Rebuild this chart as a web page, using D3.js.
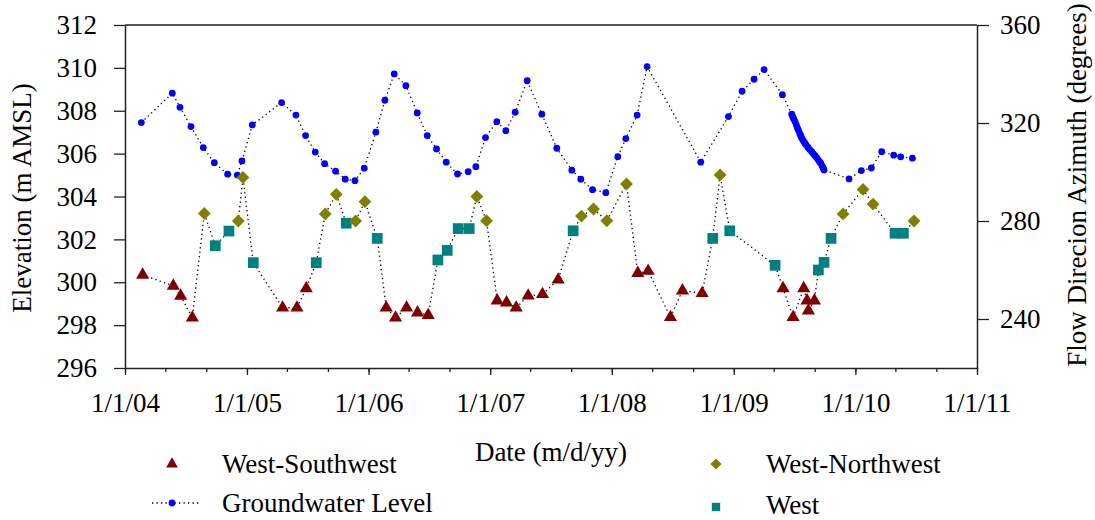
<!DOCTYPE html>
<html>
<head>
<meta charset="utf-8">
<script src="https://cdn.jsdelivr.net/npm/d3@7"></script>
<style>
  html, body { margin: 0; padding: 0; background: #fff; }
  svg { display: block; }
  svg text { font-family: "Liberation Serif", "Times New Roman", serif; fill: #000; }
</style>
</head>
<body>
<svg id="chart" width="1095" height="520"></svg>
<script>
// Groundwater level (m AMSL)
const gwDates = [
  "2004-02-19","2004-05-22","2004-06-14","2004-07-17","2004-08-23","2004-09-25","2004-11-04","2004-12-03","2004-12-17",
  "2005-01-17","2005-04-15","2005-05-28","2005-06-26","2005-07-25","2005-08-22","2005-09-24","2005-10-23","2005-11-21","2005-12-19",
  "2006-01-23","2006-02-19","2006-03-19","2006-04-23","2006-05-27","2006-06-26","2006-07-24","2006-08-22","2006-09-25","2006-10-27","2006-11-19","2006-12-18",
  "2007-01-21","2007-02-17","2007-03-17","2007-04-22","2007-06-05","2007-07-20","2007-09-03","2007-09-30","2007-11-04","2007-12-14",
  "2008-01-19","2008-02-12","2008-03-17","2008-04-16","2008-09-24","2008-12-16",
  "2009-01-26","2009-03-03","2009-04-02","2009-05-27",
  "2009-06-24","2009-06-27","2009-06-30","2009-07-04","2009-07-08","2009-07-11","2009-07-14","2009-07-18","2009-07-21","2009-07-24",
  "2009-07-29","2009-08-02","2009-08-06","2009-08-12","2009-08-17","2009-08-23","2009-08-28","2009-09-02","2009-09-07","2009-09-12",
  "2009-09-16","2009-09-19","2009-09-23","2009-09-26","2009-09-29",
  "2009-12-13","2010-01-19","2010-02-18","2010-03-21","2010-04-26","2010-05-17","2010-06-21"
];
const gwLevels = [
  307.45,308.82,308.16,307.26,306.28,305.58,305.04,305.00,305.66,
  307.34,308.38,307.80,306.84,306.07,305.53,305.18,304.81,304.74,305.32,
  307.00,308.49,309.72,309.17,307.90,306.84,306.22,305.60,305.05,305.16,305.39,306.75,
  307.49,307.07,307.93,309.40,307.84,306.25,305.23,304.81,304.32,304.18,
  305.86,306.70,307.80,310.06,305.60,307.73,
  308.91,309.47,309.92,308.75,
  307.84,307.72,307.62,307.49,307.33,307.20,307.10,306.94,306.84,306.72,
  306.60,306.50,306.41,306.29,306.19,306.09,305.99,305.90,305.81,305.70,
  305.61,305.55,305.43,305.33,305.24,
  304.82,305.21,305.33,306.09,305.93,305.85,305.79
];

// Flow direction azimuth (degrees), grouped by direction class
const wswDates = [
  "2004-02-23","2004-05-25","2004-06-16","2004-07-21",
  "2005-04-18","2005-05-31","2005-06-28",
  "2006-02-23","2006-03-23","2006-04-25","2006-05-28","2006-06-29",
  "2007-01-22","2007-02-19","2007-03-20","2007-04-25","2007-06-07","2007-07-24",
  "2008-03-19","2008-04-19","2008-06-25","2008-07-31","2008-09-28",
  "2009-05-29","2009-06-28","2009-07-30","2009-08-09","2009-08-13","2009-08-31"
];
const wswAzimuth = [
  258.0,253.5,249.4,240.5,
  244.6,244.6,252.5,
  244.6,240.5,244.6,242.6,241.6,
  247.5,246.7,244.6,249.5,250.1,256.0,
  258.7,259.6,240.7,251.6,250.5,
  252.5,240.7,252.5,247.5,243.4,247.5
];
const wnwDates = [
  "2004-08-26","2004-12-06","2004-12-20",
  "2005-08-24","2005-09-26","2005-11-23","2005-12-21",
  "2006-11-22","2006-12-21",
  "2007-10-02","2007-11-07","2007-12-17","2008-02-14",
  "2008-11-21","2009-11-25","2010-01-24","2010-02-23","2010-06-26"
];
const wnwAzimuth = [
  283.1,280.0,297.8,
  282.9,290.9,280.0,287.9,
  290.0,280.1,
  282.0,284.9,280.1,295.1,
  298.8,282.9,292.9,286.9,280.0
];
const westDates = [
  "2004-09-28","2004-11-08","2005-01-20",
  "2005-07-28","2005-10-26","2006-01-27",
  "2006-07-28","2006-08-25","2006-09-27","2006-10-30",
  "2007-09-07",
  "2008-10-30","2008-12-20",
  "2009-05-05","2009-09-12","2009-09-29","2009-10-20",
  "2010-04-30","2010-05-25"
];
const westAzimuth = [
  269.9,275.9,263.0,
  263.0,279.1,272.9,
  264.1,268.0,276.9,276.9,
  276.0,
  272.9,276.0,
  261.9,260.0,263.1,272.9,
  275.0,275.0
];

const xTickYears = [2004, 2005, 2006, 2007, 2008, 2009, 2010, 2011];
const leftTicks = [296, 298, 300, 302, 304, 306, 308, 310, 312];
const rightTicks = [240, 280, 320, 360];

const parse = d3.timeParse("%Y-%m-%d");
const svg = d3.select("#chart");
const FONT = 27;

const plot = { left: 125, right: 977, top: 25, bottom: 368 };

const x = d3.scaleTime()
  .domain([new Date(2004, 0, 1), new Date(2011, 0, 1)])
  .range([plot.left, plot.right]);
const yL = d3.scaleLinear().domain([296, 312]).range([plot.bottom, plot.top]);
const yR = d3.scaleLinear().domain([220, 360]).range([plot.bottom, plot.top]);

const styleAxis = g => {
  g.attr("font-family", null).attr("font-size", null);
  g.select(".domain").attr("stroke", "#222").attr("stroke-width", 1.5);
  g.selectAll("line").attr("stroke", "#222").attr("stroke-width", 1.3);
  g.selectAll("text").attr("font-size", FONT);
};

// Frame top edge
svg.append("line")
  .attr("x1", plot.left).attr("x2", plot.right)
  .attr("y1", plot.top).attr("y2", plot.top)
  .attr("stroke", "#222").attr("stroke-width", 1.5);

// X axis: yearly labels, minor ticks every four months
const xMinor = d3.axisBottom(x)
  .tickValues(d3.timeMonth.every(4).range(new Date(2004, 0, 1), new Date(2011, 0, 2)))
  .tickSize(4).tickFormat("");
svg.append("g").attr("transform", `translate(0,${plot.bottom})`).call(xMinor)
  .call(styleAxis)
  .call(g => g.select(".domain").remove());

const xMajor = d3.axisBottom(x)
  .tickValues(xTickYears.map(y => new Date(y, 0, 1)))
  .tickSize(7)
  .tickSizeOuter(0)
  .tickFormat(d3.timeFormat("%-m/%-d/%y"));
svg.append("g").attr("transform", `translate(0,${plot.bottom})`).call(xMajor)
  .call(styleAxis)
  .call(g => g.selectAll("text").attr("y", 44).attr("dy", null));

// Left axis
const axL = d3.axisLeft(yL).tickValues(leftTicks).tickSize(11).tickSizeOuter(0).tickPadding(17)
  .tickFormat(d3.format("d"));
svg.append("g").attr("transform", `translate(${plot.left},0)`).call(axL).call(styleAxis);

// Right axis
const axR = d3.axisRight(yR).tickValues(rightTicks).tickSize(12).tickSizeOuter(0).tickPadding(11)
  .tickFormat(d3.format("d"));
svg.append("g").attr("transform", `translate(${plot.right},0)`).call(axR).call(styleAxis);

// Axis titles
svg.append("text")
  .attr("transform", "translate(31,198) rotate(-90)")
  .attr("text-anchor", "middle")
  .attr("font-size", FONT).text("Elevation (m AMSL)");
svg.append("text")
  .attr("transform", "translate(1086,185) rotate(-90)")
  .attr("text-anchor", "middle")
  .attr("font-size", FONT).text("Flow Direcion Azimuth (degrees)");
svg.append("text")
  .attr("x", 551).attr("y", 461)
  .attr("text-anchor", "middle")
  .attr("font-size", FONT).text("Date (m/d/yy)");

// Groundwater level series
const gw = gwDates.map((d, i) => ({ date: parse(d), value: gwLevels[i] }));
svg.append("path")
  .datum(gw)
  .attr("fill", "none")
  .attr("stroke", "#000")
  .attr("stroke-width", 1.3)
  .attr("stroke-dasharray", "1.3,3.2")
  .attr("d", d3.line().x(d => x(d.date)).y(d => yL(d.value)));
svg.append("g").selectAll("circle")
  .data(gw).join("circle")
  .attr("cx", d => x(d.date)).attr("cy", d => yL(d.value))
  .attr("r", 3.4).attr("fill", "#0000ff");

// Flow direction series (one dotted path through all classes in time order)
const toPts = (dates, vals, cls) => dates.map((d, i) => ({ date: parse(d), value: vals[i], cls }));
const flow = [
  ...toPts(wswDates, wswAzimuth, "wsw"),
  ...toPts(wnwDates, wnwAzimuth, "wnw"),
  ...toPts(westDates, westAzimuth, "w")
].sort((a, b) => a.date - b.date);

svg.append("path")
  .datum(flow)
  .attr("fill", "none")
  .attr("stroke", "#000")
  .attr("stroke-width", 1.3)
  .attr("stroke-dasharray", "1.3,3.2")
  .attr("d", d3.line().x(d => x(d.date)).y(d => yR(d.value)));

const style = {
  wsw: { symbol: d3.symbolTriangle, size: 75, color: "#800000" },
  wnw: { symbol: d3.symbolDiamond2, size: 105, color: "#808000" },
  w:   { symbol: d3.symbolSquare, size: 115, color: "#008080" }
};
svg.append("g").selectAll("path")
  .data(flow).join("path")
  .attr("transform", d => `translate(${x(d.date)},${yR(d.value)})`)
  .attr("d", d => d3.symbol(style[d.cls].symbol, style[d.cls].size)())
  .attr("fill", d => style[d.cls].color);

// Legend
const legend = svg.append("g").attr("font-size", FONT);
legend.append("path")
  .attr("transform", "translate(172,464)")
  .attr("d", d3.symbol(d3.symbolTriangle, 60)())
  .attr("fill", style.wsw.color);
legend.append("text").attr("x", 222).attr("y", 473).text("West-Southwest");

legend.append("line")
  .attr("x1", 152).attr("x2", 200).attr("y1", 503).attr("y2", 503)
  .attr("stroke", "#000").attr("stroke-width", 1.3).attr("stroke-dasharray", "1.3,3.2");
legend.append("circle").attr("cx", 172).attr("cy", 503).attr("r", 3.4).attr("fill", "#0000ff");
legend.append("text").attr("x", 222).attr("y", 512).text("Groundwater Level");

legend.append("path")
  .attr("transform", "translate(716,464)")
  .attr("d", d3.symbol(d3.symbolDiamond2, 80)())
  .attr("fill", style.wnw.color);
legend.append("text").attr("x", 766).attr("y", 473).text("West-Northwest");

legend.append("path")
  .attr("transform", "translate(716,507)")
  .attr("d", d3.symbol(d3.symbolSquare, 70)())
  .attr("fill", style.w.color);
legend.append("text").attr("x", 766).attr("y", 514).text("West");
</script>
</body>
</html>
